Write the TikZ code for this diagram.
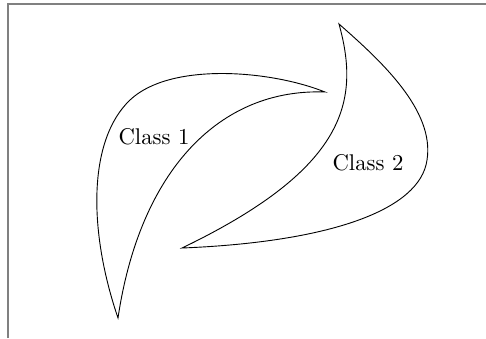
\documentclass[tikz,border=0pt]{standalone}
\usepackage{tikz}

\begin{document}
\begin{tikzpicture}[x=0.44pt,y=-0.44pt,font=\normalsize]
\useasboundingbox (0,0) rectangle (486,338);
\draw[gray,line width=0.6pt] (8,338) -- (8,4) -- (486,4);
% class 1
\draw (118,318) .. controls (88,230) and (88,140) .. (130,100)
  .. controls (170,62) and (270,70) .. (325,92)
  .. controls (220,88) and (140,170) .. (118,318) -- cycle;
% class 2
\draw (339,24) .. controls (380,60) and (435,110) .. (427,160)
  .. controls (420,210) and (330,242) .. (182,248)
  .. controls (348,168) and (360,100) .. (339,24) -- cycle;
\node (class1) at (154,137) {Class 1};
\node (class2) at (368,163) {Class 2};
\end{tikzpicture}
\end{document}
